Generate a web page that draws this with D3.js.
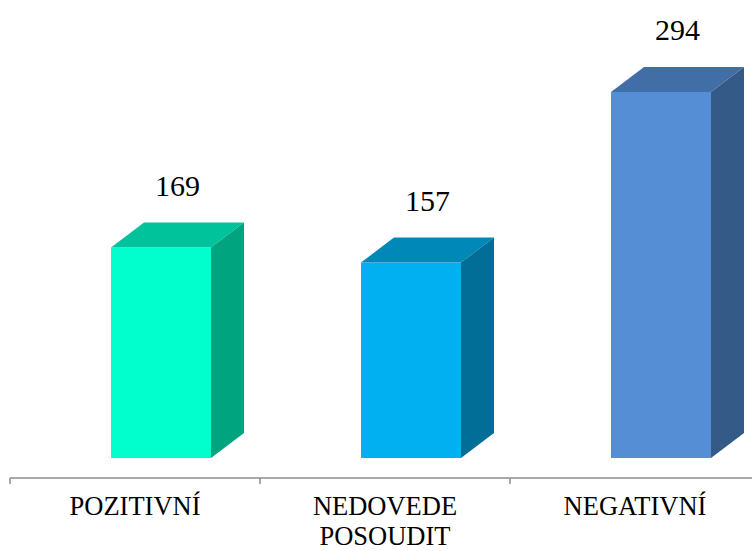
<!DOCTYPE html>
<html>
<head>
<meta charset="utf-8">
<script src="https://cdn.jsdelivr.net/npm/d3@7"></script>
<style>
  html, body { margin: 0; padding: 0; background: #fff; }
  svg { display: block; }
  text { font-family: "Liberation Serif", "Times New Roman", serif; fill: #000; }
</style>
</head>
<body>
<svg id="chart" width="752" height="551"></svg>
<script>
// Survey answers: count of respondents per category
const categories = ["POZITIVNÍ", "NEDOVEDE POSOUDIT", "NEGATIVNÍ"];
const values = [169, 157, 294];
const frontColors = ["#00FFCC", "#00B0F0", "#558ED5"];
const topColors = ["#00C39C", "#0088B9", "#416EA7"];
const sideColors = ["#00A47F", "#006E97", "#345A88"];

const svg = d3.select("#chart");
const W = 752;

const x = d3.scaleBand().domain(categories).range([10, 760]).paddingInner(0).paddingOuter(0);
const y = d3.scaleLinear().domain([0, 294]).range([458, 92]);

const depthX = 33, depthY = 25;
const barOffset = 0.404, barWidth = 0.4;
const axisY = 478;

const data = categories.map((c, i) => ({ c, v: values[i], i }));

const bars = svg.append("g").selectAll("g").data(data).join("g");

const fx = d => x(d.c) + x.bandwidth() * barOffset;
const fw = x.bandwidth() * barWidth;

// front face
bars.append("rect")
  .attr("x", d => fx(d))
  .attr("y", d => y(d.v))
  .attr("width", fw)
  .attr("height", d => y(0) - y(d.v))
  .attr("fill", d => frontColors[d.i]);

// top face
bars.append("path")
  .attr("d", d => {
    const x0 = fx(d), x1 = x0 + fw, yt = y(d.v);
    return `M${x0},${yt}L${x0 + depthX},${yt - depthY}L${x1 + depthX},${yt - depthY}L${x1},${yt}Z`;
  })
  .attr("fill", d => topColors[d.i]);

// side face
bars.append("path")
  .attr("d", d => {
    const x1 = fx(d) + fw, yt = y(d.v), yb = y(0);
    return `M${x1},${yt}L${x1 + depthX},${yt - depthY}L${x1 + depthX},${yb - depthY}L${x1},${yb}Z`;
  })
  .attr("fill", d => sideColors[d.i]);

// value labels
bars.append("text")
  .attr("x", d => fx(d) + fw / 2 + depthX / 2)
  .attr("y", d => y(d.v) - 52)
  .attr("text-anchor", "middle")
  .attr("font-size", 30)
  .text(d => d.v);

// category axis
const axis = svg.append("g");
axis.append("line")
  .attr("x1", 10).attr("x2", W)
  .attr("y1", axisY).attr("y2", axisY)
  .attr("stroke", "#8c8c8c").attr("stroke-width", 1.5);

const tickPos = categories.map(c => x(c));
axis.selectAll("line.tick").data(tickPos).join("line")
  .attr("class", "tick")
  .attr("x1", d => d).attr("x2", d => d)
  .attr("y1", axisY).attr("y2", axisY + 6)
  .attr("stroke", "#8c8c8c").attr("stroke-width", 1.5);

// category labels, wrapped onto two lines where needed
const labels = axis.selectAll("text").data(categories).join("text")
  .attr("text-anchor", "middle")
  .attr("font-size", 26.5)
  .attr("y", 515);
labels.each(function (c) {
  const words = c === "NEDOVEDE POSOUDIT" ? ["NEDOVEDE", "POSOUDIT"] : [c];
  const cx = x(c) + x.bandwidth() / 2;
  d3.select(this).selectAll("tspan").data(words).join("tspan")
    .attr("x", cx)
    .attr("dy", (w, k) => k === 0 ? 0 : 30)
    .text(w => w);
});
</script>
</body>
</html>
